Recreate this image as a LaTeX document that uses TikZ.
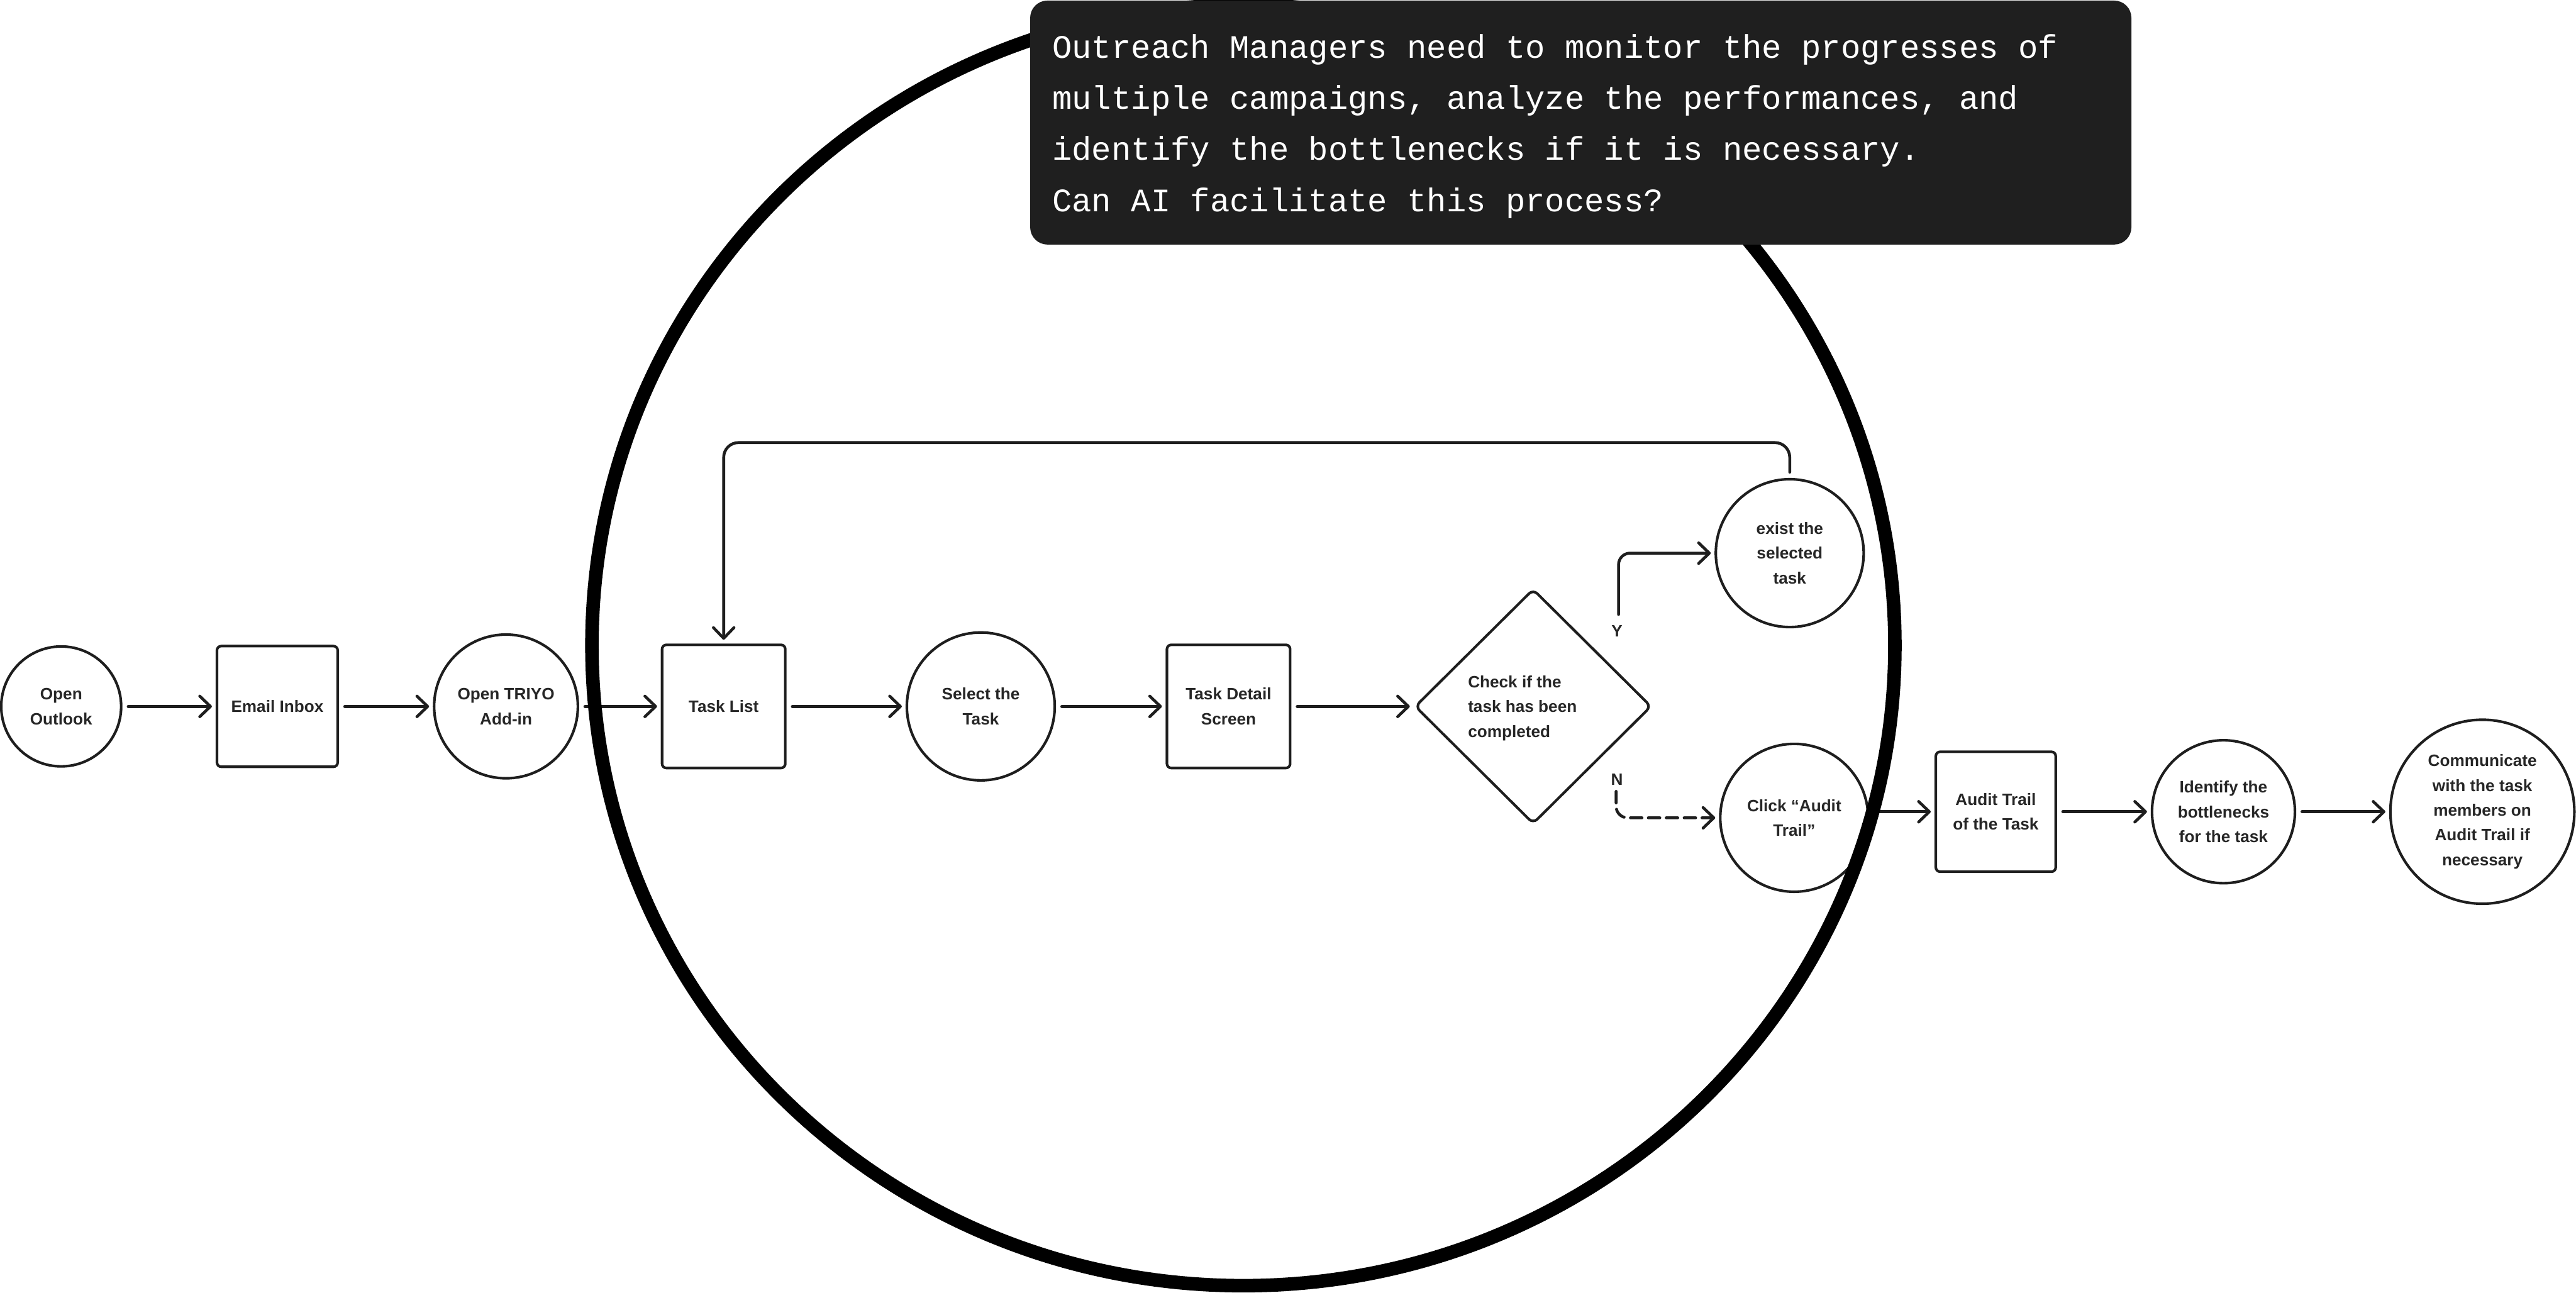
\documentclass[tikz,border=0pt]{standalone}
\usepackage{fontspec}
\usepackage{xcolor}
\usepackage{tikz}
\usetikzlibrary{
	arrows.meta,
	calc,
	positioning,
	shapes.geometric
}
\setmainfont{Liberation Sans}
\newfontfamily\questmono{Liberation Mono}
\newcommand{\stepfont}{\fontsize{5.7}{8.6}\selectfont\bfseries}
\newcommand{\questfont}{\questmono\fontsize{11.38}{17.7}\selectfont}

\definecolor{boxdark}{HTML}{1F1F1F}
\definecolor{linegray}{HTML}{1E1E1E}
\definecolor{txtgray}{HTML}{262626}

\tikzset{
	stepcirc/.style={circle, draw=linegray, line width=0.9pt, minimum size=#1,
		inner sep=0pt, align=center, font=\stepfont, text=txtgray},
	stepbox/.style={rectangle, rounded corners=1.5pt, draw=linegray, line width=0.9pt,
		minimum width=#1, minimum height=#1, inner sep=0pt, align=center,
		font=\stepfont, text=txtgray},
	decision/.style={diamond, draw=linegray, line width=0.9pt, rounded corners=2pt,
		minimum width=2.88cm, minimum height=2.86cm, inner sep=0pt},
	steptext/.style={font=\stepfont, text=txtgray, inner sep=0pt},
	flow/.style={-{Straight Barb[length=1.3mm,width=2.5mm,round]}, line width=1pt,
		draw=linegray, line cap=round, shorten <=2pt, shorten >=1.3pt},
	qbox/.style={rectangle, rounded corners=0.21cm, fill=boxdark, inner sep=0pt},
	qtext/.style={font=\questfont, text=white, align=left, inner sep=0pt}
}

\begin{document}
\begin{tikzpicture}
	\useasboundingbox (0,0) rectangle (31.36,-15.736);
	
	% 第一行：流程节点
	\node[stepcirc=1.46cm] (outlook) at (0.745,-8.60) {Open\\Outlook};
	\node[stepbox=1.47cm] (inbox) at (3.376,-8.60) {Email Inbox};
	\node[stepcirc=1.75cm] (triyo) at (6.16,-8.60) {Open TRIYO\\Add-in};
	\node[stepbox=1.50cm] (tasklist) at (8.81,-8.60) {Task List};
	\node[stepcirc=1.80cm] (select) at (11.94,-8.60) {Select the\\Task};
	\node[stepbox=1.50cm] (detail) at (14.956,-8.60) {Task Detail\\Screen};
	\node[decision] (check) at (18.664,-8.60) {};
	\node[steptext, align=left] (checktext) at ([xshift=-0.13cm,yshift=-0.02cm]check.center)
		{Check if the\\task has been\\completed};
	
	% 分支
	\node[stepcirc=1.80cm] (exist) at (21.788,-6.734) {exist the\\selected\\task};
	\node[stepcirc=1.80cm] (click) at (21.842,-9.956) {Click “Audit\\Trail”};
	
	% 第二行
	\node[stepbox=1.46cm] (audit) at (24.296,-9.882) {Audit Trail\\of the Task};
	\node[stepcirc=1.74cm] (identify) at (27.068,-9.882) {Identify the\\bottlenecks\\for the task};
	\node[stepcirc=2.24cm] (talk) at (30.22,-9.882)
		{Communicate\\with the task\\members on\\Audit Trail if\\necessary};
	
	% 箭头
	\foreach \a/\b in {outlook/inbox,inbox/triyo,triyo/tasklist,tasklist/select,
		select/detail,detail/check,audit/identify,identify/talk}
	\draw[flow] (\a) -- (\b);
	\draw[flow] (click.east |- audit) -- (audit);
	
	% 是 / 否
	\coordinate (yfoot) at (19.704,-7.48);
	\coordinate (nfoot) at (19.674,-9.634);
	\draw[flow, shorten <=0pt, rounded corners=0.14cm] (yfoot) |- (exist.west);
	\draw[flow, shorten <=0pt, dash pattern=on 4pt off 2.2pt, rounded corners=0.14cm]
		(nfoot) |- (click.west);
	\node[steptext] (ylabel) at (19.684,-7.682) {Y};
	\node[steptext] (nlabel) at (19.684,-9.486) {N};
	
	% 回到任务列表
	\draw[flow, rounded corners=0.18cm] (exist.north) -- ++(0,0.43) -| (tasklist.north);
	
	% 大圆
	\draw[line width=0.165cm] (15.137,-7.857) ellipse [x radius=7.931cm, y radius=7.795cm];
	
	% 问题框
	\node[qbox, anchor=north west, minimum width=13.406cm, minimum height=2.97cm]
		(question) at (12.534,0) {};
	\node[qtext, anchor=north west] (questiontext) at (12.804,-0.41)
		{Outreach Managers need to monitor the progresses of\\
		multiple campaigns, analyze the performances, and\\
		identify the bottlenecks if it is necessary.\\
		Can AI facilitate this process?};
\end{tikzpicture}
\end{document}
